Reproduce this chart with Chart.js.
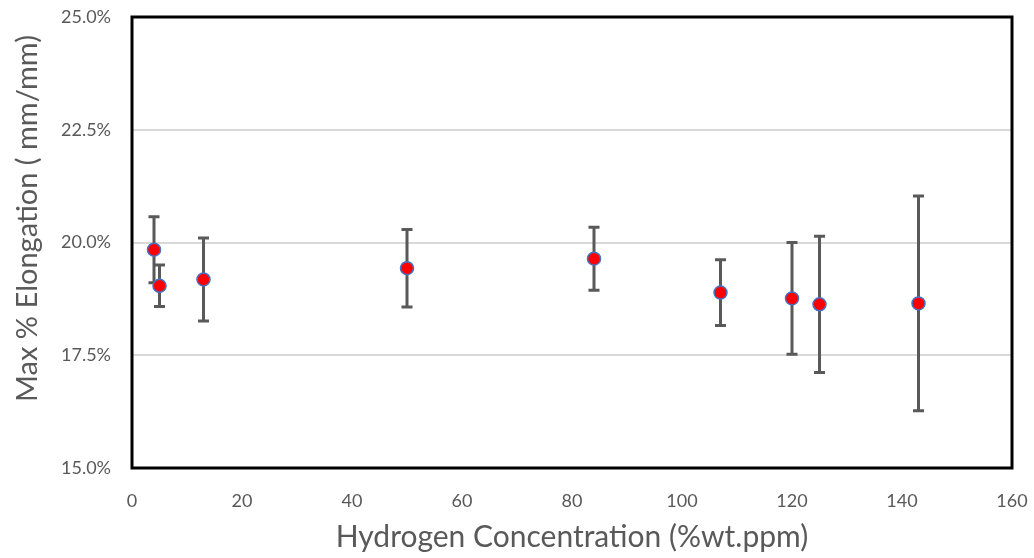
<!DOCTYPE html>
<html>
<head>
<meta charset="utf-8">
<script src="https://cdn.jsdelivr.net/npm/chart.js@4"></script>
<style>
  html, body { margin: 0; padding: 0; background: #fff; }
  #wrap { width: 1034px; height: 558px; }
</style>
</head>
<body>
<div id="wrap"><canvas class="elongChart"></canvas></div>
<script>
'use strict';

// hydrogen content (wt.ppm) and max elongation (%) with +/- spread
const hydrogen = [4, 5, 13, 50, 84, 107, 120, 125, 143];
const elongation = [19.84, 19.04, 19.18, 19.43, 19.64, 18.89, 18.76, 18.63, 18.65];
const spread = [0.73, 0.46, 0.92, 0.86, 0.70, 0.73, 1.24, 1.51, 2.38];

const FONT = 'Lato, "Open Sans", sans-serif';
const Y_TITLE = 'Max % Elongation ( mm/mm)';

// frame around the plotting area
const frame = {
  id: 'frame',
  beforeDatasetsDraw(chart) {
    const { ctx, chartArea: a } = chart;
    ctx.save();
    ctx.strokeStyle = '#000';
    ctx.lineWidth = 3;
    ctx.strokeRect(a.left, a.top, a.right - a.left, a.bottom - a.top);
    ctx.restore();
  },
};

// vertical error bars with caps
const errorBars = {
  id: 'errorBars',
  beforeDatasetsDraw(chart) {
    const { ctx, scales } = chart;
    const xs = scales.x;
    const ys = scales.y;
    ctx.save();
    ctx.strokeStyle = '#595959';
    ctx.lineWidth = 3;
    hydrogen.forEach((h, i) => {
      const px = xs.getPixelForValue(h);
      const top = ys.getPixelForValue(elongation[i] + spread[i]);
      const bot = ys.getPixelForValue(elongation[i] - spread[i]);
      ctx.beginPath();
      ctx.moveTo(px, top);
      ctx.lineTo(px, bot);
      ctx.moveTo(px - 5.5, top);
      ctx.lineTo(px + 5.5, top);
      ctx.moveTo(px - 5.5, bot);
      ctx.lineTo(px + 5.5, bot);
      ctx.stroke();
    });
    ctx.restore();
  },
};

// y axis title, sitting a little above the middle of the axis
const yTitle = {
  id: 'yTitle',
  afterDraw(chart) {
    const { ctx, chartArea: a } = chart;
    ctx.save();
    ctx.translate(28, (a.top + a.bottom) / 2 - 24);
    ctx.rotate(-Math.PI / 2);
    ctx.fillStyle = '#595959';
    ctx.font = '29px ' + FONT;
    ctx.textAlign = 'center';
    ctx.textBaseline = 'middle';
    ctx.fillText(Y_TITLE, 0, 0);
    ctx.restore();
  },
};

const ctx = document.querySelector('.elongChart');

const elongChart = new Chart(ctx, {
  type: 'scatter',
  data: {
    datasets: [
      {
        label: 'Max % Elongation',
        data: hydrogen.map((h, i) => ({ x: h, y: elongation[i] })),
        backgroundColor: '#ff0000',
        borderColor: '#4472c4',
        borderWidth: 1.5,
        pointRadius: 6.5,
        pointHoverRadius: 6.5,
      },
    ],
  },
  options: {
    responsive: true,
    maintainAspectRatio: false,
    animation: false,
    layout: { padding: { top: 17, right: 22, left: 0, bottom: 0 } },
    plugins: {
      legend: { display: false },
      tooltip: { enabled: false },
    },
    scales: {
      x: {
        type: 'linear',
        min: 0,
        max: 160,
        ticks: {
          stepSize: 20,
          color: '#595959',
          font: { family: FONT, size: 18 },
          padding: 22,
        },
        grid: { display: false, drawTicks: false },
        border: { display: false },
        title: {
          display: true,
          text: 'Hydrogen Concentration (%wt.ppm)',
          color: '#595959',
          font: { family: FONT, size: 30 },
          padding: { top: 0, bottom: 3 },
        },
        afterFit(scale) {
          scale.height = 90;
          scale.paddingLeft = 0;
          scale.paddingRight = 0;
        },
      },
      y: {
        min: 15,
        max: 25,
        ticks: {
          stepSize: 2.5,
          color: '#595959',
          font: { family: FONT, size: 18 },
          padding: 21,
          callback: (v) => v.toFixed(1) + '%',
        },
        grid: {
          color: (c) => (c.tick && (c.tick.value === 15 || c.tick.value === 25) ? 'rgba(0,0,0,0)' : '#d9d9d9'),
          lineWidth: 2,
          drawTicks: false,
        },
        border: { display: false },
        afterFit(scale) {
          scale.width = 132;
          scale.paddingTop = 0;
          scale.paddingBottom = 0;
        },
      },
    },
  },
  plugins: [frame, errorBars, yTitle],
});
</script>
</body>
</html>
